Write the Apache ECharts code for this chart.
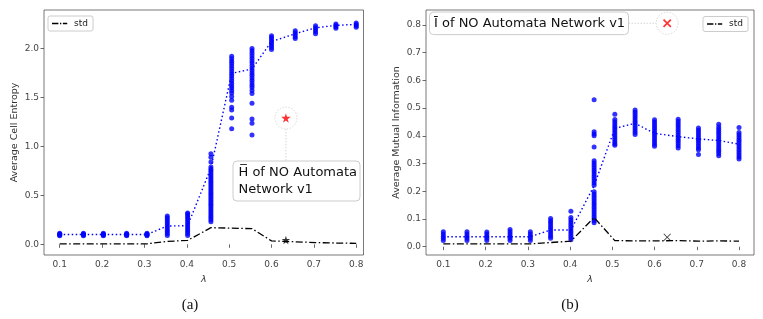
<!DOCTYPE html>
<html><head><meta charset="utf-8">
<script src="https://cdn.jsdelivr.net/npm/echarts@6/dist/echarts.min.js"></script>
<style>html,body{margin:0;padding:0;background:#fff}#c{width:763px;height:319px}</style>
</head><body><div id="c"></div>
<script>
// ---------- data ----------
const lambdas = [0.1, 0.156, 0.203, 0.258, 0.306, 0.354, 0.402, 0.457, 0.506, 0.554, 0.6, 0.656, 0.704, 0.752, 0.8];
const xTicks = [0.1, 0.2, 0.3, 0.4, 0.5, 0.6, 0.7, 0.8];
const hTicks = [0, 0.5, 1.0, 1.5, 2.0];
const iTicks = [0, 0.1, 0.2, 0.3, 0.4, 0.5, 0.6, 0.7, 0.8];

const hSamples = [
  [0.088, 0.094, 0.1, 0.106, 0.112],
  [0.088, 0.094, 0.1, 0.106, 0.112],
  [0.088, 0.094, 0.1, 0.106, 0.112],
  [0.088, 0.094, 0.1, 0.106, 0.112],
  [0.088, 0.094, 0.1, 0.106, 0.112],
  [0.09, 0.11, 0.13, 0.15, 0.17, 0.19, 0.21, 0.23, 0.25, 0.27, 0.29],
  [0.09, 0.11, 0.13, 0.15, 0.17, 0.19, 0.21, 0.23, 0.25, 0.27, 0.29, 0.31, 0.32],
  [0.925, 0.89, 0.84, 0.79, 0.77, 0.75, 0.73, 0.71, 0.69, 0.67, 0.65, 0.63, 0.61, 0.59, 0.57, 0.55, 0.53, 0.51, 0.49, 0.47, 0.45, 0.43, 0.41, 0.39, 0.37, 0.35, 0.33, 0.31, 0.29, 0.27, 0.25, 0.23],
  [1.92, 1.895, 1.87, 1.845, 1.82, 1.795, 1.77, 1.745, 1.72, 1.695, 1.67, 1.645, 1.62, 1.595, 1.57, 1.545, 1.51, 1.47, 1.40, 1.37, 1.29, 1.18],
  [2.0, 1.975, 1.95, 1.925, 1.9, 1.875, 1.85, 1.825, 1.8, 1.775, 1.75, 1.725, 1.7, 1.675, 1.65, 1.625, 1.6, 1.57, 1.54, 1.44, 1.28, 1.235, 1.115],
  [2.13, 2.11, 2.09, 2.07, 2.05, 2.03, 2.01, 1.99],
  [2.18, 2.16, 2.14, 2.12, 2.10],
  [2.23, 2.21, 2.19, 2.17, 2.15],
  [2.25, 2.235, 2.22, 2.205],
  [2.26, 2.245, 2.23, 2.215]
];
const hMean = [0.1, 0.1, 0.1, 0.1, 0.1, 0.187, 0.19, 0.78, 1.745, 1.79, 2.07, 2.15, 2.21, 2.235, 2.245];
const hStd = [0.005, 0.005, 0.005, 0.005, 0.005, 0.03, 0.04, 0.17, 0.165, 0.16, 0.035, 0.026, 0.018, 0.013, 0.01];

const iSamples = [
  [0.022, 0.03, 0.038, 0.046, 0.054],
  [0.022, 0.03, 0.038, 0.046, 0.054],
  [0.022, 0.03, 0.038, 0.046, 0.053],
  [0.022, 0.03, 0.038, 0.046, 0.054, 0.062],
  [0.022, 0.03, 0.038, 0.046, 0.054],
  [0.03, 0.038, 0.046, 0.054, 0.062, 0.07, 0.078, 0.086, 0.094, 0.102],
  [0.025, 0.033, 0.041, 0.049, 0.057, 0.065, 0.073, 0.081, 0.089, 0.097, 0.105, 0.128],
  [0.53, 0.415, 0.407, 0.4, 0.36, 0.31, 0.302, 0.294, 0.286, 0.278, 0.27, 0.262, 0.254, 0.246, 0.238, 0.23, 0.222,
   0.198, 0.19, 0.182, 0.174, 0.166, 0.158, 0.15, 0.142, 0.134, 0.126, 0.118, 0.11, 0.102, 0.094, 0.086],
  [0.478, 0.459, 0.451, 0.443, 0.435, 0.427, 0.419, 0.411, 0.403, 0.395, 0.387, 0.379, 0.371, 0.366],
  [0.493, 0.485, 0.477, 0.469, 0.461, 0.453, 0.445, 0.437, 0.429, 0.421, 0.413, 0.405],
  [0.458, 0.45, 0.442, 0.434, 0.426, 0.418, 0.41, 0.402, 0.394, 0.386, 0.378, 0.37, 0.362],
  [0.46, 0.452, 0.444, 0.436, 0.428, 0.42, 0.412, 0.404, 0.396, 0.388, 0.38, 0.372, 0.364, 0.356],
  [0.428, 0.42, 0.412, 0.404, 0.396, 0.388, 0.38, 0.372, 0.364, 0.356, 0.35, 0.333],
  [0.442, 0.432, 0.424, 0.416, 0.408, 0.4, 0.392, 0.384, 0.376, 0.368, 0.36, 0.352, 0.344, 0.336, 0.328],
  [0.43, 0.412, 0.404, 0.396, 0.388, 0.38, 0.372, 0.364, 0.356, 0.348, 0.34, 0.332, 0.324, 0.316]
];
const iMean = [0.036, 0.036, 0.036, 0.036, 0.036, 0.06, 0.06, 0.22, 0.427, 0.445, 0.409, 0.397, 0.389, 0.383, 0.37];
const iStd = [0.01, 0.01, 0.01, 0.01, 0.01, 0.015, 0.02, 0.105, 0.022, 0.021, 0.021, 0.022, 0.02, 0.021, 0.02];

const hMarkBlack = [0.634, 0.044];
const hMarkRed = [0.634, 1.29];
const iMarkBlack = [0.63, 0.034];
const iMarkRed = [0.63, 0.806];

const hTitle = ['H\u0305 of NO Automata', 'Network v1'];
const iTitle = '\u012A of NO Automata Network v1';

// ---------- helpers ----------
const STAR = 'path://M50,0 L61,35 L98,35 L68,57 L79,91 L50,70 L21,91 L32,57 L2,35 L39,35 Z';
const CROSS_BOLD = 'path://M0,14 L14,0 L50,36 L86,0 L100,14 L64,50 L100,86 L86,100 L50,64 L14,100 L0,86 L36,50 Z';
const CROSS_THIN = 'path://M0,8 L8,0 L50,42 L92,0 L100,8 L58,50 L100,92 L92,100 L50,58 L8,100 L0,92 L42,50 Z';
const LEG_ICON = 'path://M0,0h8v2h-8z M10,0h1.6v2h-1.6z M13.6,0h5.4v2h-5.4z';
const FONT = 'DejaVu Sans';
const AX = '#444';

function flat(samples) {
  const out = [];
  samples.forEach((col, i) => col.forEach(v => out.push([lambdas[i], v])));
  return out;
}
function pairs(vals) { return vals.map((v, i) => [lambdas[i], v]); }

function xAxis(grid, min, max) {
  return {
    type: 'value', gridIndex: grid, min, max,
    name: 'λ', nameLocation: 'middle', nameGap: 20,
    nameTextStyle: { fontFamily: FONT, fontSize: 9.5, fontStyle: 'italic', color: '#333' },
    splitLine: { show: false }, axisLine: { show: false },
    axisTick: { show: true, length: 3.5, customValues: xTicks, lineStyle: { color: AX, width: 0.8 } },
    axisLabel: { customValues: xTicks, formatter: v => v.toFixed(1), fontFamily: FONT, fontSize: 9, color: AX, margin: 5 }
  };
}
function yAxis(grid, min, max, ticks, name, gap) {
  return {
    type: 'value', gridIndex: grid, min, max,
    name, nameLocation: 'middle', nameGap: gap,
    nameTextStyle: { fontFamily: FONT, fontSize: 9.5, color: '#333' },
    splitLine: { show: false }, axisLine: { show: false },
    axisTick: { show: true, length: 3.5, customValues: ticks, lineStyle: { color: AX, width: 0.8 } },
    axisLabel: { customValues: ticks, formatter: v => v.toFixed(1), fontFamily: FONT, fontSize: 9, color: AX, margin: 5 }
  };
}
function legend(left, top) {
  return {
    data: [{ name: 'std', icon: LEG_ICON }], left, top, orient: 'horizontal',
    itemWidth: 19, itemHeight: 1.6, itemGap: 5,
    padding: [3, 5, 3, 4], borderColor: '#ccc', borderWidth: 1, borderRadius: 2,
    backgroundColor: '#fff', selectedMode: false,
    textStyle: { fontFamily: FONT, fontSize: 9, color: '#222', padding: [0, 0, 0, 0] },
    itemStyle: { color: '#000' }
  };
}

const chart = echarts.init(document.getElementById('c'), null, { renderer: 'canvas', width: 763, height: 319 });

const option = {
  backgroundColor: '#fff',
  animation: false,
  grid: [
    { left: 44, top: 10, width: 319.5, height: 245, show: true, borderColor: '#555', borderWidth: 0.8, backgroundColor: 'transparent' },
    { left: 426, top: 10, width: 328, height: 245, show: true, borderColor: '#555', borderWidth: 0.8, backgroundColor: 'transparent' }
  ],
  xAxis: [xAxis(0, 0.0629, 0.8172), xAxis(1, 0.059, 0.8355)],
  yAxis: [
    yAxis(0, -0.109, 2.392, hTicks, 'Average Cell Entropy', 24),
    yAxis(1, -0.030, 0.854, iTicks, 'Average Mutual Information', 24)
  ],
  legend: [legend(48, 16), legend(703, 16.5)],
  series: [
    { type: 'line', name: 'std', xAxisIndex: 0, yAxisIndex: 0, data: pairs(hStd), symbol: 'none',
      lineStyle: { color: '#000', width: 1.3, type: [7, 2.5, 1.5, 2.5] }, itemStyle: { color: '#000' }, z: 3 },
    { type: 'scatter', name: 'Hs', xAxisIndex: 0, yAxisIndex: 0, data: flat(hSamples), symbol: 'circle', symbolSize: 5,
      itemStyle: { color: '#0000ff' }, z: 2 },
    { type: 'line', name: 'Hmean', xAxisIndex: 0, yAxisIndex: 0, data: pairs(hMean), symbol: 'none',
      lineStyle: { color: '#0000ff', width: 1.4, type: [1.5, 2.5] }, z: 4 },
    { type: 'scatter', name: 'Hcirc', xAxisIndex: 0, yAxisIndex: 0, data: [hMarkRed], symbol: 'circle', symbolSize: 22,
      itemStyle: { color: '#fff', borderColor: '#c8c8c8', borderWidth: 0.9, borderType: [1.5, 1.5] }, z: 5 },
    { type: 'scatter', name: 'Hred', xAxisIndex: 0, yAxisIndex: 0, data: [hMarkRed], symbol: STAR, symbolSize: 9.5,
      itemStyle: { color: '#ff0000' }, z: 6 },
    { type: 'scatter', name: 'Hblk', xAxisIndex: 0, yAxisIndex: 0, data: [hMarkBlack], symbol: STAR, symbolSize: 8.5,
      itemStyle: { color: '#000' }, z: 6 },

    { type: 'line', name: 'std', xAxisIndex: 1, yAxisIndex: 1, data: pairs(iStd), symbol: 'none',
      lineStyle: { color: '#000', width: 1.3, type: [7, 2.5, 1.5, 2.5] }, itemStyle: { color: '#000' }, z: 3 },
    { type: 'scatter', name: 'Is', xAxisIndex: 1, yAxisIndex: 1, data: flat(iSamples), symbol: 'circle', symbolSize: 5,
      itemStyle: { color: '#0000ff' }, z: 2 },
    { type: 'line', name: 'Imean', xAxisIndex: 1, yAxisIndex: 1, data: pairs(iMean), symbol: 'none',
      lineStyle: { color: '#0000ff', width: 1.4, type: [1.5, 2.5] }, z: 4 },
    { type: 'scatter', name: 'Icirc', xAxisIndex: 1, yAxisIndex: 1, data: [iMarkRed], symbol: 'circle', symbolSize: 22,
      itemStyle: { color: '#fff', borderColor: '#c8c8c8', borderWidth: 0.9, borderType: [1.5, 1.5] }, z: 5 },
    { type: 'scatter', name: 'Ired', xAxisIndex: 1, yAxisIndex: 1, data: [iMarkRed], symbol: CROSS_BOLD, symbolSize: 8.5,
      itemStyle: { color: '#ff0000' }, z: 6 },
    { type: 'scatter', name: 'Iblk', xAxisIndex: 1, yAxisIndex: 1, data: [iMarkBlack], symbol: CROSS_THIN, symbolSize: 7.5,
      itemStyle: { color: '#000' }, z: 6 }
  ]
};
chart.setOption(option);

// ---------- annotations (anchored at the data markers) ----------
const pH = chart.convertToPixel({ xAxisIndex: 0, yAxisIndex: 0 }, hMarkRed);
const pI = chart.convertToPixel({ xAxisIndex: 1, yAxisIndex: 1 }, iMarkRed);
const hBox = { x: 233, y: 161, w: 127, h: 40 };
const iBox = { x: 429.5, y: pI[1] - 11.3, w: 199, h: 22.6 };

chart.setOption({
  graphic: [
    { type: 'line', z: 4, shape: { x1: pH[0], y1: pH[1] + 11, x2: pH[0], y2: hBox.y },
      style: { stroke: '#ccc', lineWidth: 0.8, lineDash: [1.5, 1.5] } },
    { type: 'rect', z: 10, shape: { x: hBox.x, y: hBox.y, width: hBox.w, height: hBox.h, r: 4 },
      style: { fill: '#fff', stroke: '#ccc', lineWidth: 1 } },
    { type: 'text', z: 11, x: hBox.x + 5.5, y: hBox.y + 12, style: { text: hTitle[0], font: '13px "DejaVu Sans"', fill: '#111', verticalAlign: 'middle' } },
    { type: 'text', z: 11, x: hBox.x + 5.5, y: hBox.y + 28.5, style: { text: hTitle[1], font: '13px "DejaVu Sans"', fill: '#111', verticalAlign: 'middle' } },

    { type: 'line', z: 4, shape: { x1: iBox.x + iBox.w, y1: pI[1], x2: pI[0] - 11, y2: pI[1] },
      style: { stroke: '#ccc', lineWidth: 0.8, lineDash: [1.5, 1.5] } },
    { type: 'rect', z: 10, shape: { x: iBox.x, y: iBox.y, width: iBox.w, height: iBox.h, r: 4 },
      style: { fill: '#fff', stroke: '#ccc', lineWidth: 1 } },
    { type: 'text', z: 11, x: iBox.x + 4.5, y: pI[1], style: { text: iTitle, font: '13px "DejaVu Sans"', fill: '#111', verticalAlign: 'middle' } },

    { type: 'text', z: 11, x: 190, y: 305, style: { text: '(a)', font: '15px "Liberation Serif"', fill: '#111', align: 'center', verticalAlign: 'middle' } },
    { type: 'text', z: 11, x: 570, y: 305, style: { text: '(b)', font: '15px "Liberation Serif"', fill: '#111', align: 'center', verticalAlign: 'middle' } }
  ]
});
</script>
</body></html>
